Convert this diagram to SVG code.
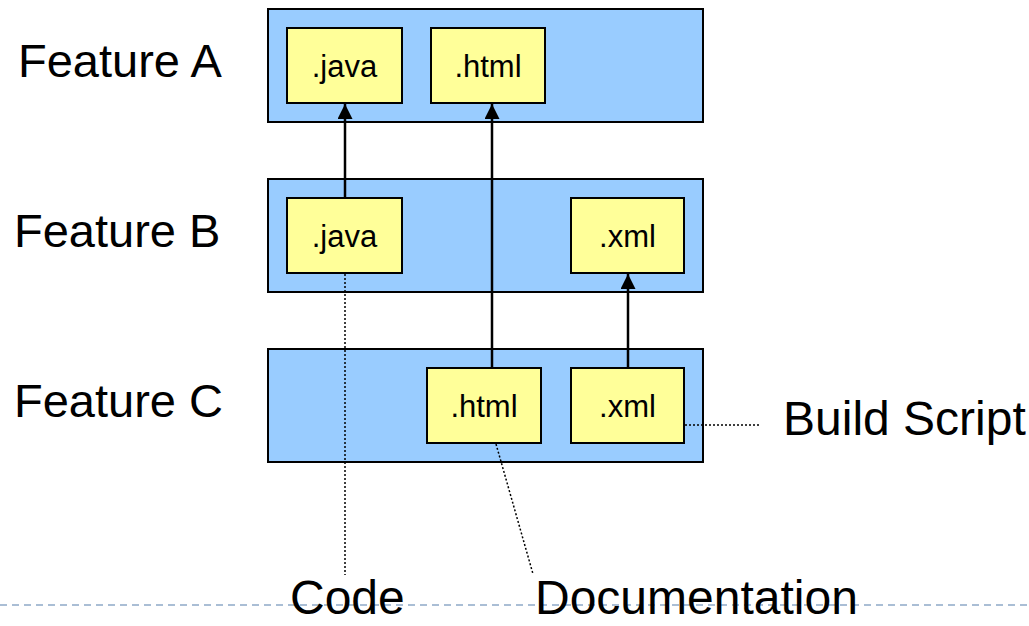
<svg xmlns="http://www.w3.org/2000/svg" width="1029" height="626" viewBox="0 0 1029 626">
<style>
.cont{fill:#99CCFF;stroke:#000;stroke-width:2}
.box{fill:#FFFF99;stroke:#000;stroke-width:2}
.bt{font-family:"Liberation Sans",Arial,sans-serif;font-size:31px;text-anchor:middle;fill:#000}
.lbl{font-family:"Liberation Sans",Arial,sans-serif;font-size:47px;fill:#000}
.lbl2{font-family:"Liberation Sans",Arial,sans-serif;font-size:48px;fill:#000}
.arr{stroke:#000;stroke-width:2.5;fill:none;marker-end:url(#ah)}
.dot{stroke:#000;stroke-width:1.5;stroke-dasharray:2 2;fill:none}
</style>
<defs>
<marker id="ah" viewBox="0 0 10 10" refX="10" refY="5" markerWidth="6" markerHeight="6" markerUnits="strokeWidth" orient="auto">
<path d="M0,0 L10,5 L0,10 Z" fill="#000"/>
</marker>
</defs>
<rect width="1029" height="626" fill="#fff"/>
<line x1="0" y1="605" x2="1029" y2="605" stroke="#8FA9C8" stroke-width="1.5" stroke-dasharray="7 5"/>
<g id="featureA">
<rect class="cont" x="268" y="9" width="435" height="113"/>
<text class="lbl" x="18" y="77">Feature A</text>
</g>
<g id="featureB">
<rect class="cont" x="268" y="179" width="435" height="113"/>
<text class="lbl" x="14" y="247">Feature B</text>
</g>
<g id="featureC">
<rect class="cont" x="268" y="349" width="435" height="113"/>
<text class="lbl" x="14" y="417">Feature C</text>
</g>
<g id="a-java"><rect class="box" x="287" y="28" width="115" height="75"/><text class="bt" x="344.5" y="77">.java</text></g>
<g id="a-html"><rect class="box" x="431" y="28" width="114" height="75"/><text class="bt" x="488" y="77">.html</text></g>
<g id="b-java"><rect class="box" x="287" y="198" width="115" height="75"/><text class="bt" x="344.5" y="247">.java</text></g>
<g id="b-xml"><rect class="box" x="571" y="198" width="113" height="75"/><text class="bt" x="627.5" y="247">.xml</text></g>
<g id="c-html"><rect class="box" x="427" y="368" width="114" height="75"/><text class="bt" x="484" y="417">.html</text></g>
<g id="c-xml"><rect class="box" x="571" y="368" width="113" height="75"/><text class="bt" x="627.5" y="417">.xml</text></g>
<g id="connectors">
<line class="arr" x1="345" y1="198" x2="345" y2="104"/>
<line class="arr" x1="492" y1="368" x2="492" y2="104"/>
<line class="arr" x1="628" y1="368" x2="628" y2="274"/>
<line class="dot" x1="345" y1="274" x2="345" y2="575"/>
<line class="dot" x1="496" y1="444" x2="533" y2="574"/>
<line class="dot" x1="685" y1="425" x2="760" y2="425"/>
</g>
<g id="labels">
<text class="lbl2" x="783" y="435">Build Script</text>
<text class="lbl2" x="290" y="614">Code</text>
<text class="lbl2" x="535" y="614">Documentation</text>
</g>
</svg>
